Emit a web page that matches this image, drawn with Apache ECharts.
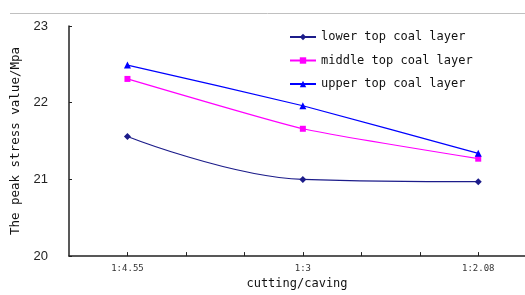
<!DOCTYPE html>
<html>
<head>
<meta charset="utf-8">
<script src="https://cdn.jsdelivr.net/npm/echarts@6/dist/echarts.min.js"></script>
<style>
  html, body { margin: 0; padding: 0; background: #fff; }
  #chart { width: 525px; height: 295px; }
</style>
</head>
<body>
<div id="chart"></div>
<script>
var ratios = ["1:4.55", "1:3", "1:2.08"];
var ratioPos = [1, 4, 7];
var tickPos = [1, 2, 3, 4, 5, 6, 7];
var lowerLayer = [21.56, 21.0, 20.97];
var middleLayer = [22.31, 21.66, 21.27];
var upperLayer = [22.49, 21.96, 21.34];
var yTicks = [20, 21, 22, 23];

var mono = "DejaVu Sans Mono";

function pairs(vals) {
    return vals.map(function(v, i) { return [ratioPos[i], v]; });
}

var chart = echarts.init(document.getElementById("chart"));

chart.setOption({
    animation: false,
    grid: { left: 69, right: 0, top: 26, bottom: 38 },
    graphic: [{
        type: "line",
        shape: { x1: 10, y1: 13.5, x2: 525, y2: 13.5 },
        style: { stroke: "#c0c0c0", lineWidth: 1 }
    }],
    legend: {
        orient: "vertical",
        left: 284,
        top: 25,
        itemWidth: 26,
        itemHeight: 8,
        itemGap: 9.5,
        textStyle: { fontFamily: mono, fontSize: 12, color: "#111", lineHeight: 14 },
        data: ["lower top coal layer", "middle top coal layer", "upper top coal layer"]
    },
    xAxis: {
        type: "value",
        min: 0,
        max: 7.8,
        name: "cutting/caving",
        nameLocation: "middle",
        nameGap: 19,
        nameTextStyle: { fontFamily: mono, fontSize: 12, color: "#111" },
        axisLine: { lineStyle: { color: "#222", width: 1.5 } },
        axisTick: { inside: true, length: 4, customValues: tickPos, lineStyle: { color: "#222" } },
        axisLabel: {
            customValues: ratioPos,
            margin: 8,
            fontFamily: mono,
            fontSize: 9,
            color: "#333",
            formatter: function(v) {
                var i = ratioPos.indexOf(v);
                return i >= 0 ? ratios[i] : "";
            }
        },
        splitLine: { show: false }
    },
    yAxis: {
        type: "value",
        min: yTicks[0],
        max: yTicks[yTicks.length - 1],
        interval: 1,
        name: "The peak stress value/Mpa",
        nameLocation: "middle",
        nameGap: 47,
        nameTextStyle: { fontFamily: mono, fontSize: 12.5, color: "#111" },
        axisLine: { show: true, lineStyle: { color: "#222", width: 1.5 } },
        axisTick: { show: true, inside: true, length: 3, lineStyle: { color: "#222" } },
        axisLabel: { margin: 21, fontFamily: "Liberation Sans", fontSize: 13, color: "#222" },
        splitLine: { show: false }
    },
    series: [{
        name: "lower top coal layer",
        type: "line",
        smooth: 0.4,
        symbol: "diamond",
        symbolSize: 7,
        color: "#1c1c8a",
        lineStyle: { width: 1.2 },
        data: pairs(lowerLayer)
    }, {
        name: "middle top coal layer",
        type: "line",
        smooth: 0.15,
        symbol: "rect",
        symbolSize: 6,
        color: "#ff00ff",
        lineStyle: { width: 1.2 },
        data: pairs(middleLayer)
    }, {
        name: "upper top coal layer",
        type: "line",
        smooth: 0.15,
        symbol: "triangle",
        symbolSize: 7,
        color: "#0000ff",
        lineStyle: { width: 1.2 },
        data: pairs(upperLayer)
    }]
});
</script>
</body>
</html>
